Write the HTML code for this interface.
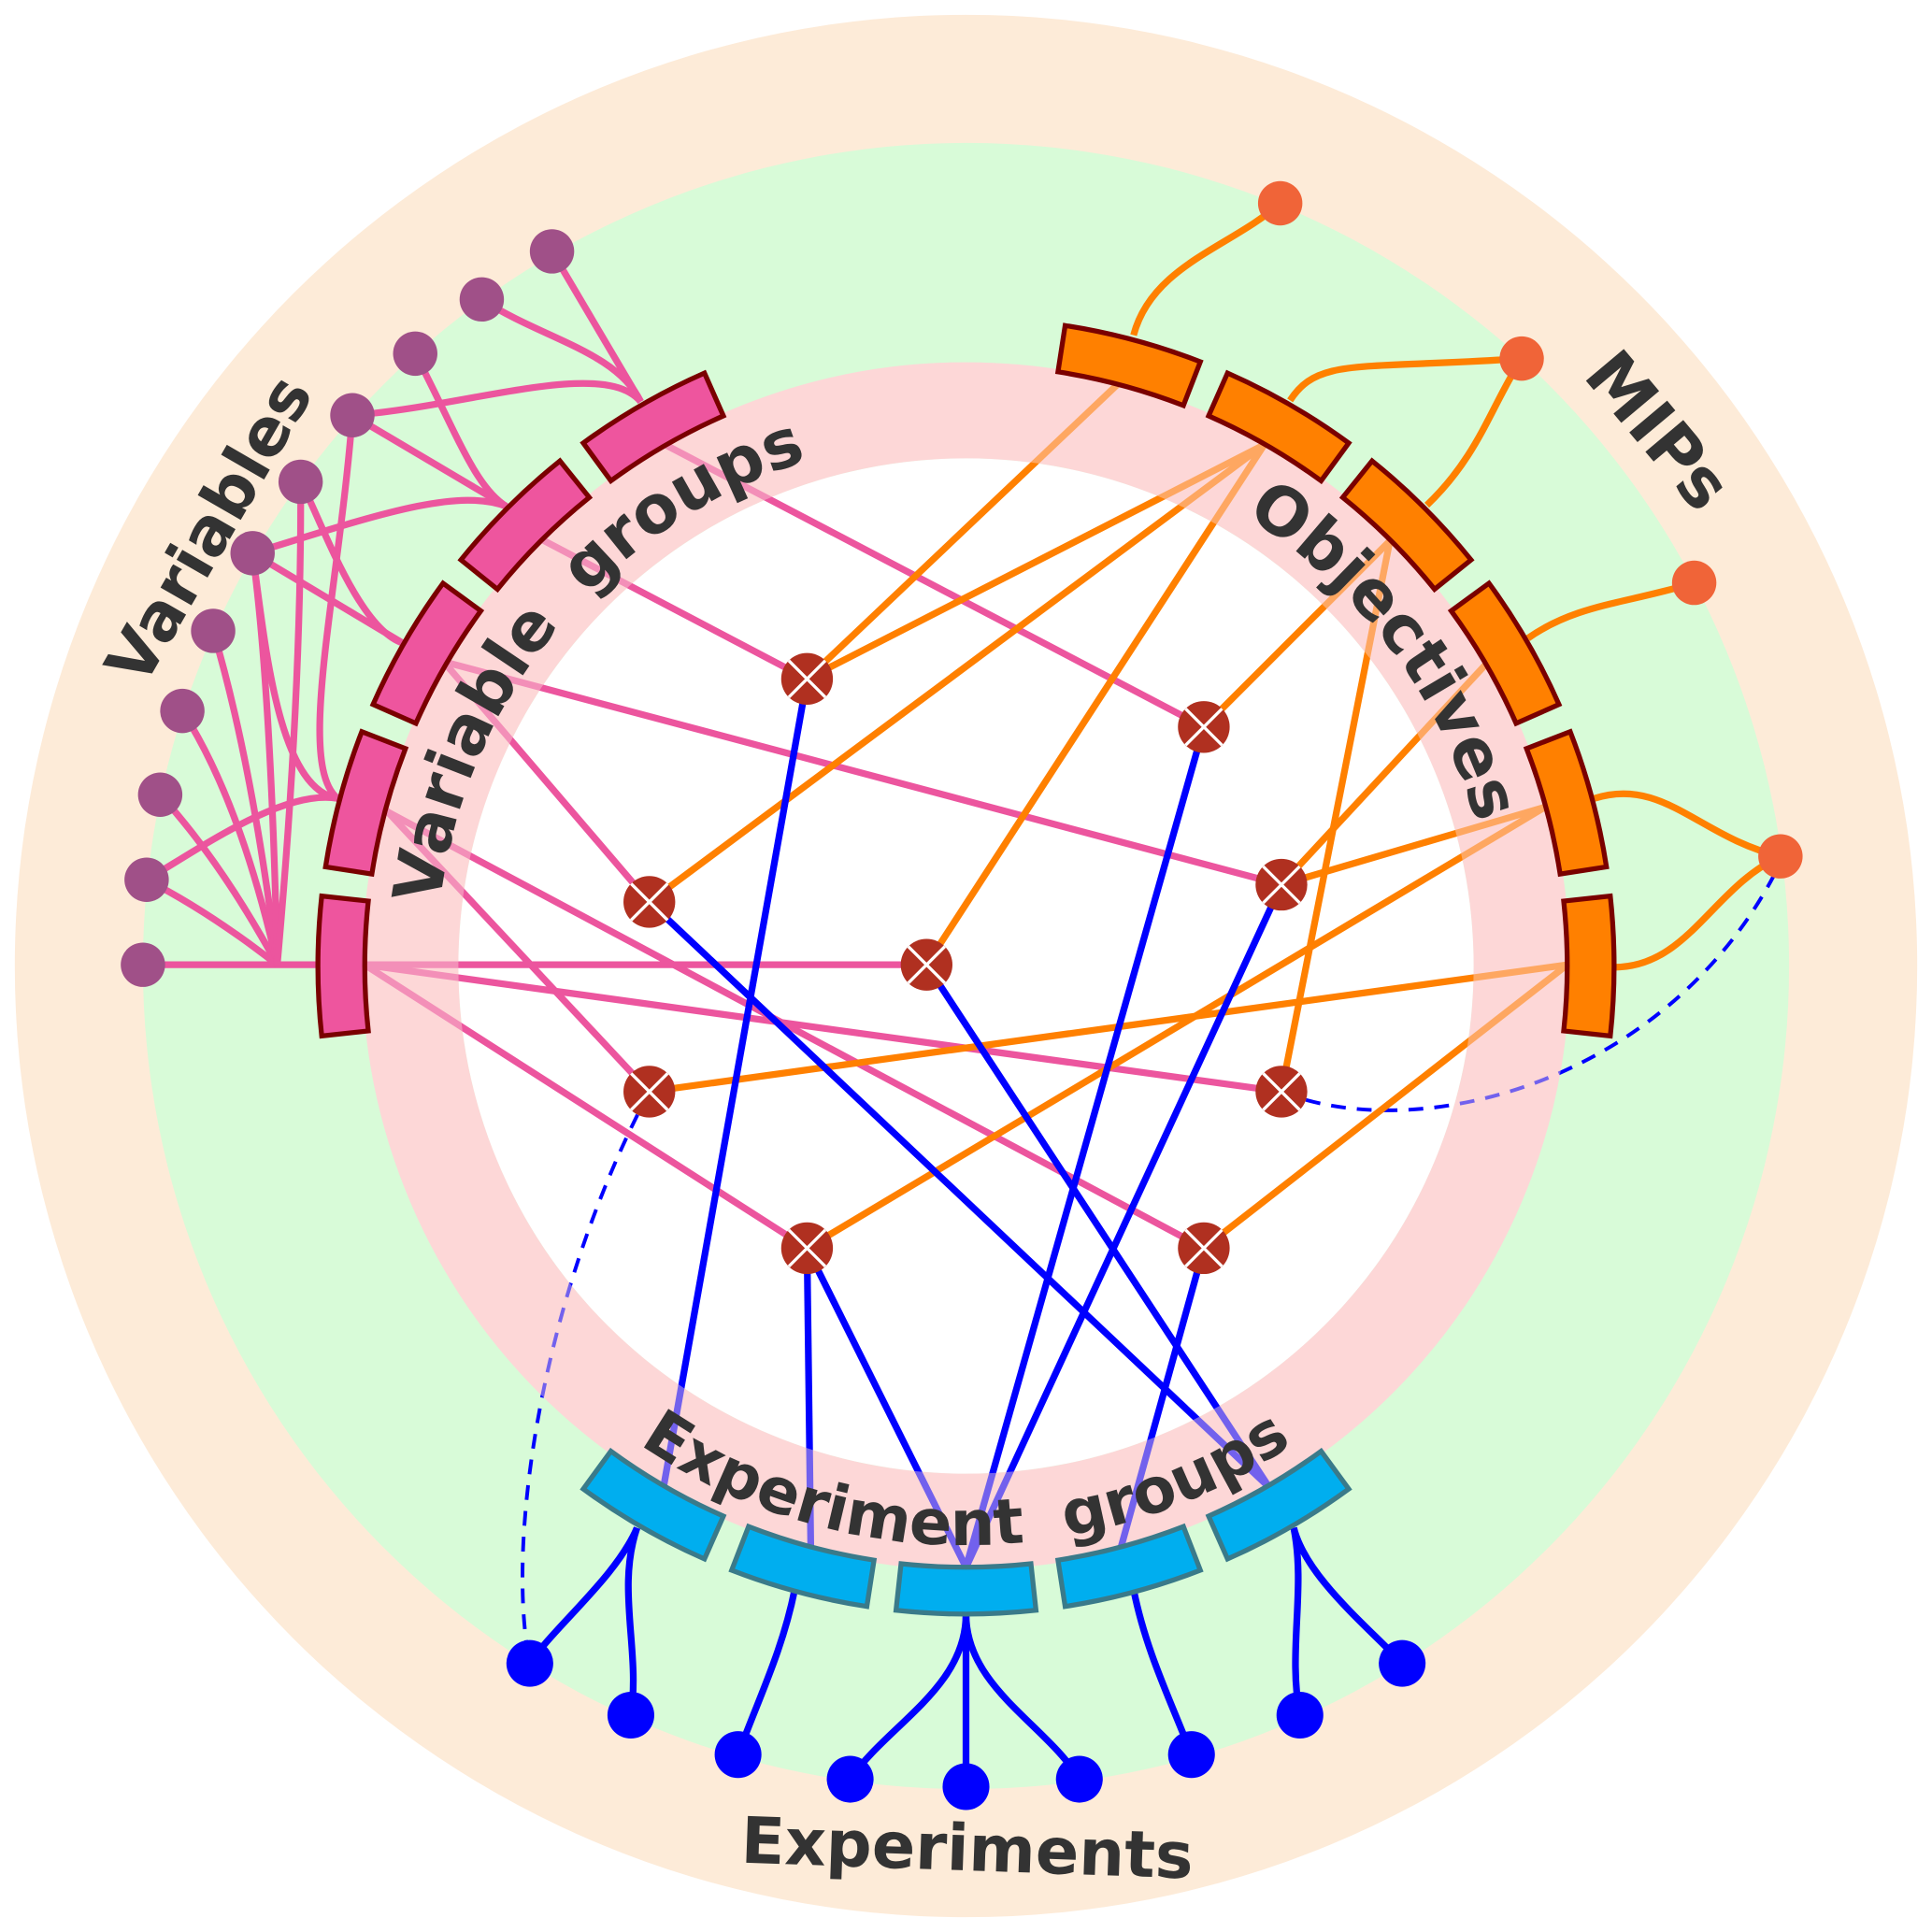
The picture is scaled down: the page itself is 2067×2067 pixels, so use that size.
<!DOCTYPE html>
<html><head><meta charset="utf-8"><style>html,body{margin:0;padding:0;background:#fff}svg{display:block}</style></head>
<body>
<svg width="2067" height="2067" viewBox="0 0 1568 1568" xmlns="http://www.w3.org/2000/svg">
<defs>
<path id="sec" d="M261.1,727.2 A526,526 0 0 0 261.1,840.8 L298.9,836.7 A488,488 0 0 1 298.9,731.3 Z"/>
<g id="nd"><circle r="21" fill="#b03020"/><path d="M-14.8,-14.8 L14.8,14.8 M-14.8,14.8 L14.8,-14.8" stroke="#fff" stroke-width="2.5"/></g>
</defs>
<rect width="1568" height="1568" fill="#fff"/>
<circle cx="784" cy="784" r="772" fill="#fdebd8"/>
<circle cx="784" cy="784" r="668" fill="#d8fbd8"/>
<circle cx="784" cy="784" r="451" fill="none" stroke="#fdd8d8" stroke-width="78"/>
<circle cx="784" cy="784" r="412" fill="#fff"/>

<g fill="none" stroke="#ec559e" stroke-width="5.5">
<path d="M116,783 L256,783"/>
<path d="M119,714 Q170,740 225,783"/>
<path d="M130,645 Q180,700 225,783"/>
<path d="M148,577 Q195,650 225,783"/>
<path d="M173,512 Q205,620 225,783"/>
<path d="M205,449 Q220,560 225,783"/>
<path d="M244,391 Q245,560 225,783"/>
<path d="M119,714 C160,690 230,640 274,648"/>
<path d="M205,449 C215,520 225,640 274,648"/>
<path d="M286,337 C275,480 240,620 274,648"/>
<path d="M244,391 C260,420 290,510 327,522"/>
<path d="M205,449 L327,522"/>
<path d="M205,449 C300,420 370,395 411,411"/>
<path d="M286,337 L411,411"/>
<path d="M337,287 C370,350 385,395 411,411"/>
<path d="M286,337 C380,330 490,290 520,326"/>
<path d="M391,243 C440,275 500,285 520,326"/>
<path d="M448,204 L520,326"/>
</g>
<g fill="none" stroke="#ff8000" stroke-width="5.5">
<path d="M920,272 C935,215 1000,200 1039,165"/>
<path d="M1047,325 C1070,290 1100,300 1235,291"/>
<path d="M1158,410 C1200,370 1210,330 1235,291"/>
<path d="M1240,518 C1280,490 1320,490 1375,473"/>
<path d="M1294,648 C1350,630 1380,680 1445,695"/>
<path d="M1310,785 C1370,785 1390,720 1445,695"/>
</g>
<g fill="none" stroke="#0000ff" stroke-width="5.5">
<path d="M517,1240 C500,1280 450,1320 430,1350"/>
<path d="M517,1240 C500,1290 520,1340 512,1392"/>
<path d="M645,1290 C635,1340 615,1380 599,1424"/>
<path d="M784,1310 C784,1370 720,1400 690,1444"/>
<path d="M784,1310 L784,1450"/>
<path d="M784,1310 C784,1370 850,1400 876,1444"/>
<path d="M920,1290 C930,1340 950,1380 967,1424"/>
<path d="M1050,1240 C1060,1290 1045,1340 1055,1392"/>
<path d="M1050,1240 C1060,1280 1110,1320 1138,1350"/>
</g>
<g fill="none" stroke="#0000ff" stroke-width="3" stroke-dasharray="12,9">
<path d="M1040,886 C1150,930 1350,880 1440,710"/>
<path d="M527,886 C440,1050 410,1250 430,1350"/>
</g>

<g stroke="#ec559e" stroke-width="5.5">
<line x1="540" y1="361" x2="977" y2="590"/>
<line x1="438" y1="437" x2="655" y2="551"/>
<line x1="360" y1="537" x2="1040" y2="718"/>
<line x1="360" y1="537" x2="527" y2="732"/>
<line x1="311" y1="657" x2="977" y2="1013"/>
<line x1="311" y1="655" x2="527" y2="886"/>
<line x1="296" y1="783" x2="752" y2="783"/>
<line x1="296" y1="783" x2="1040" y2="886"/>
<line x1="296" y1="783" x2="655" y2="1013"/>
</g>
<g stroke="#ff8000" stroke-width="5.5">
<line x1="907" y1="312" x2="655" y2="551"/>
<line x1="1026" y1="361" x2="655" y2="551"/>
<line x1="1026" y1="361" x2="527" y2="732"/>
<line x1="1026" y1="361" x2="752" y2="783"/>
<line x1="1128" y1="439" x2="1040" y2="886"/>
<line x1="1128" y1="439" x2="977" y2="590"/>
<line x1="1206" y1="539" x2="1040" y2="718"/>
<line x1="1254" y1="655" x2="1040" y2="718"/>
<line x1="1254" y1="655" x2="655" y2="1013"/>
<line x1="1272" y1="783" x2="527" y2="886"/>
<line x1="1272" y1="783" x2="977" y2="1013"/>
</g>
<g stroke="#0000ff" stroke-width="5.5">
<line x1="655" y1="551" x2="538" y2="1210"/>
<line x1="527" y1="732" x2="1030" y2="1207"/>
<line x1="752" y1="783" x2="1030" y2="1207"/>
<line x1="977" y1="590" x2="784" y2="1272"/>
<line x1="1040" y1="718" x2="784" y2="1272"/>
<line x1="655" y1="1013" x2="658" y2="1255"/>
<line x1="655" y1="1013" x2="784" y2="1272"/>
<line x1="977" y1="1013" x2="910" y2="1255"/>
</g>

<circle cx="784" cy="784" r="451" fill="none" stroke="#fdd8d8" stroke-width="78" opacity="0.45"/>

<g fill="#ee559e" stroke="#7a0000" stroke-width="4">
<use href="#sec"/>
<use href="#sec" transform="rotate(15 784 784)"/>
<use href="#sec" transform="rotate(30 784 784)"/>
<use href="#sec" transform="rotate(45 784 784)"/>
<use href="#sec" transform="rotate(60 784 784)"/>
</g>
<g fill="#ff8000" stroke="#7a0000" stroke-width="4">
<use href="#sec" transform="rotate(180 784 784)"/>
<use href="#sec" transform="rotate(165 784 784)"/>
<use href="#sec" transform="rotate(150 784 784)"/>
<use href="#sec" transform="rotate(135 784 784)"/>
<use href="#sec" transform="rotate(120 784 784)"/>
<use href="#sec" transform="rotate(105 784 784)"/>
</g>
<g fill="#00aeef" stroke="#3a7a8a" stroke-width="4">
<use href="#sec" transform="rotate(-120 784 784)"/>
<use href="#sec" transform="rotate(-105 784 784)"/>
<use href="#sec" transform="rotate(-90 784 784)"/>
<use href="#sec" transform="rotate(-75 784 784)"/>
<use href="#sec" transform="rotate(-60 784 784)"/>
</g>

<use href="#nd" x="655" y="551"/>
<use href="#nd" x="977" y="590"/>
<use href="#nd" x="527" y="732"/>
<use href="#nd" x="1040" y="718"/>
<use href="#nd" x="752" y="783"/>
<use href="#nd" x="527" y="886"/>
<use href="#nd" x="1040" y="886"/>
<use href="#nd" x="655" y="1013"/>
<use href="#nd" x="977" y="1013"/>

<g fill="#a05088">
<circle cx="448" cy="204" r="18"/><circle cx="391" cy="243" r="18"/><circle cx="337" cy="287" r="18"/>
<circle cx="286" cy="337" r="18"/><circle cx="244" cy="391" r="18"/><circle cx="205" cy="449" r="18"/>
<circle cx="173" cy="512" r="18"/><circle cx="148" cy="577" r="18"/><circle cx="130" cy="645" r="18"/>
<circle cx="119" cy="714" r="18"/><circle cx="116" cy="783" r="18"/>
</g>
<g fill="#f06438">
<circle cx="1039" cy="165" r="18"/><circle cx="1235" cy="291" r="18"/><circle cx="1375" cy="473" r="18"/><circle cx="1445" cy="695" r="18"/>
</g>
<g fill="#0000ff">
<circle cx="430" cy="1350" r="19"/><circle cx="512" cy="1392" r="19"/><circle cx="599" cy="1424" r="19"/>
<circle cx="690" cy="1444" r="19"/><circle cx="784" cy="1450" r="19"/><circle cx="876" cy="1444" r="19"/>
<circle cx="967" cy="1424" r="19"/><circle cx="1055" cy="1392" r="19"/><circle cx="1138" cy="1350" r="19"/>
</g>

<defs>
<path id="tObj" d="M 784,354 A 430,430 0 0 1 1214,784"/>
<path id="tVar" d="M 354,784 A 430,430 0 0 1 784,354"/>
<path id="tExp" d="M 314,784 A 470,470 0 0 0 1254,784"/>
</defs>
<g font-family="DejaVu Sans, Liberation Sans, sans-serif" font-weight="bold" fill="#333" font-size="54">
<text><textPath href="#tObj" startOffset="59%" text-anchor="middle">Objectives</textPath></text>
<text word-spacing="14"><textPath href="#tVar" startOffset="44%" text-anchor="middle">Variable groups</textPath></text>
<text word-spacing="16" font-size="51"><textPath href="#tExp" startOffset="50%" text-anchor="middle">Experiment groups</textPath></text>
<text x="170" y="448" text-anchor="middle" transform="rotate(-60 170 430)" font-size="53">Variables</text>
<text x="1345" y="368" text-anchor="middle" transform="rotate(50 1345 350)" font-size="55">MIPs</text>
<text x="785" y="1518" text-anchor="middle" transform="rotate(2 785 1500)" font-size="52">Experiments</text>
</g>
</svg>
</body></html>
